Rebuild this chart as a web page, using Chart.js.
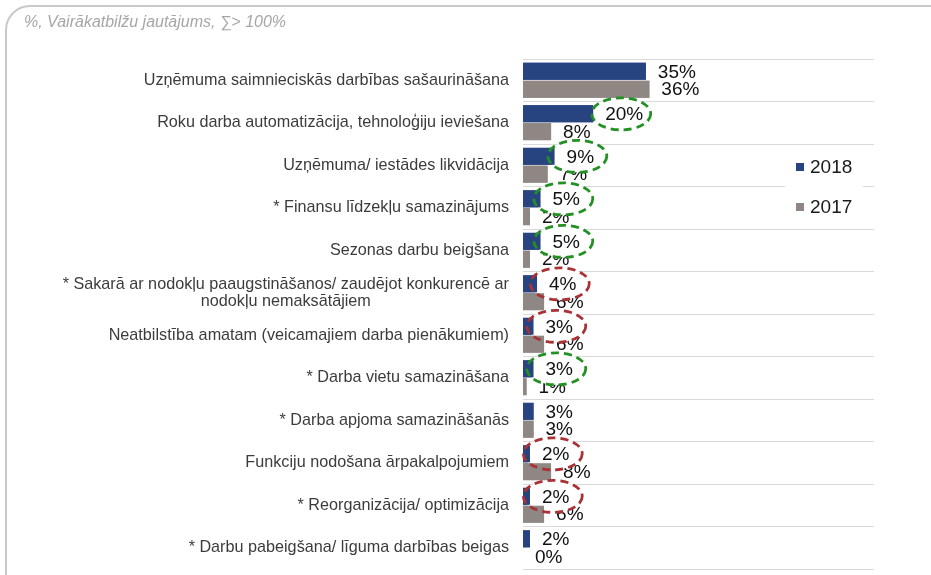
<!DOCTYPE html>
<html>
<head>
<meta charset="utf-8">
<script src="https://cdn.jsdelivr.net/npm/chart.js@4"></script>
<style>
  html, body { margin: 0; padding: 0; background: #ffffff; }
  #wrap { width: 931px; height: 575px; position: relative; }
</style>
</head>
<body>
<div id="wrap"><canvas id="c" width="931" height="575"></canvas></div>
<script>
// ---- data ----
const subtitle = '%, Vairākatbilžu jautājums, ∑> 100%';
const categories = [
  'Uzņēmuma saimnieciskās darbības sašaurināšana',
  'Roku darba automatizācija, tehnoloģiju ieviešana',
  'Uzņēmuma/ iestādes likvidācija',
  '* Finansu līdzekļu samazinājums',
  'Sezonas darbu beigšana',
  ['* Sakarā ar nodokļu paaugstināšanos/ zaudējot konkurencē ar', 'nodokļu nemaksātājiem'],
  'Neatbilstība amatam (veicamajiem darba pienākumiem)',
  '* Darba vietu samazināšana',
  '* Darba apjoma samazināšanās',
  'Funkciju nodošana ārpakalpojumiem',
  '* Reorganizācija/ optimizācija',
  '* Darbu pabeigšana/ līguma darbības beigas'
];
const seriesNames = ['2018', '2017'];
const values2018 = [35, 20, 9, 5, 5, 4, 3, 3, 3, 2, 2, 2];
const values2017 = [36, 8, 7, 2, 2, 6, 6, 1, 3, 8, 6, 0];
// which 2018 labels are circled, and in which colour group
const circled = ['', 'green', 'green', 'green', 'green', 'red', 'red', 'green', '', 'red', 'red', ''];

// ---- styles ----
const FONT = "'Liberation Sans', Arial, sans-serif";
const COL_2018 = '#284480';
const COL_2017 = '#8f8783';
const RING = { green: '#239023', red: '#a93236' };

const framePlugin = {
  id: 'frame',
  beforeDraw(chart) {
    const ctx = chart.ctx;
    ctx.save();
    ctx.fillStyle = '#ffffff';
    ctx.fillRect(0, 0, chart.width, chart.height);
    ctx.strokeStyle = '#c9c9c9';
    ctx.lineWidth = 2;
    ctx.beginPath();
    ctx.roundRect(6, 6, 1000, 590, 24);
    ctx.stroke();
    ctx.font = 'italic 16px ' + FONT;
    ctx.fillStyle = '#a6a6a6';
    ctx.textAlign = 'left';
    ctx.textBaseline = 'middle';
    ctx.fillText(subtitle, 24, 23);
    ctx.restore();
  }
};

const labelsPlugin = {
  id: 'catlabels',
  afterDraw(chart) {
    const ctx = chart.ctx;
    const y = chart.scales.y;
    const right = chart.chartArea.left - 14;
    const lh = 17;
    ctx.save();
    ctx.font = '16.2px ' + FONT;
    ctx.fillStyle = '#3c3c3c';
    ctx.textBaseline = 'middle';
    chart.data.labels.forEach((lab, i) => {
      const cy = y.getPixelForValue(i);
      const lines = Array.isArray(lab) ? lab : [lab];
      const maxW = Math.max(...lines.map(l => ctx.measureText(l).width));
      const top = cy - (lines.length - 1) * lh / 2;
      lines.forEach((l, k) => {
        if (lines.length === 1) {
          ctx.textAlign = 'right';
          ctx.fillText(l, right, top + k * lh);
        } else {
          ctx.textAlign = 'center';
          ctx.fillText(l, right - maxW / 2, top + k * lh);
        }
      });
    });
    // legend
    ctx.fillStyle = '#ffffff';
    ctx.fillRect(785, 150, 78, 72);
    const legY = [167, 207];
    chart.data.datasets.forEach((ds, i) => {
      ctx.fillStyle = ds.backgroundColor;
      ctx.fillRect(796, legY[i] - 4, 8, 8);
      ctx.fillStyle = '#1a1a1a';
      ctx.font = '19px ' + FONT;
      ctx.textAlign = 'left';
      ctx.fillText(ds.label, 810, legY[i] + 1);
    });
    ctx.restore();
  }
};

const valuePlugin = {
  id: 'values',
  afterDatasetsDraw(chart) {
    const ctx = chart.ctx;
    const m18 = chart.getDatasetMeta(0);
    const m17 = chart.getDatasetMeta(1);
    const RX = 29.5, RY = 16;
    ctx.save();
    ctx.font = '19px ' + FONT;
    ctx.textAlign = 'left';
    ctx.textBaseline = 'middle';
    ctx.fillStyle = '#111111';
    // 2017 labels
    m17.data.forEach((el, i) => {
      ctx.fillText(values2017[i] + '%', el.x + 12, el.y + 1);
    });
    // ellipse fills
    const rings = [];
    m18.data.forEach((el, i) => {
      if (!circled[i]) return;
      const w = ctx.measureText(values2018[i] + '%').width;
      rings.push({ x: el.x + 12 + w / 2 - 3, y: el.y, c: RING[circled[i]] });
    });
    ctx.fillStyle = '#ffffff';
    rings.forEach(r => {
      ctx.beginPath();
      ctx.ellipse(r.x, r.y, RX, RY, 0, 0, Math.PI * 2);
      ctx.fill();
    });
    // redraw bars over the fills
    m18.data.forEach(el => el.draw(ctx));
    m17.data.forEach(el => el.draw(ctx));
    // ellipse strokes
    ctx.lineWidth = 2.8;
    ctx.setLineDash([8, 5]);
    rings.forEach(r => {
      ctx.strokeStyle = r.c;
      ctx.beginPath();
      ctx.ellipse(r.x, r.y, RX, RY, 0, 0, Math.PI * 2);
      ctx.stroke();
    });
    ctx.setLineDash([]);
    // 2018 labels
    ctx.fillStyle = '#111111';
    m18.data.forEach((el, i) => {
      ctx.fillText(values2018[i] + '%', el.x + 12, el.y + 1);
    });
    ctx.restore();
  }
};

new Chart(document.getElementById('c'), {
  type: 'bar',
  data: {
    labels: categories,
    datasets: [
      { label: seriesNames[0], data: values2018, backgroundColor: COL_2018 },
      { label: seriesNames[1], data: values2017, backgroundColor: COL_2017 }
    ]
  },
  options: {
    indexAxis: 'y',
    responsive: false,
    animation: false,
    devicePixelRatio: 1,
    layout: { padding: { left: 523, right: 57, top: 59, bottom: 6 } },
    datasets: { bar: { categoryPercentage: 0.84, barPercentage: 0.95 } },
    plugins: { legend: { display: false }, tooltip: { enabled: false } },
    scales: {
      x: { display: false, min: 0, max: 100 },
      y: {
        display: true,
        ticks: { display: false },
        grid: { offset: true, color: '#d9d9d9', lineWidth: 1, drawTicks: false },
        border: { display: false }
      }
    }
  },
  plugins: [framePlugin, valuePlugin, labelsPlugin]
});
</script>
</body>
</html>
